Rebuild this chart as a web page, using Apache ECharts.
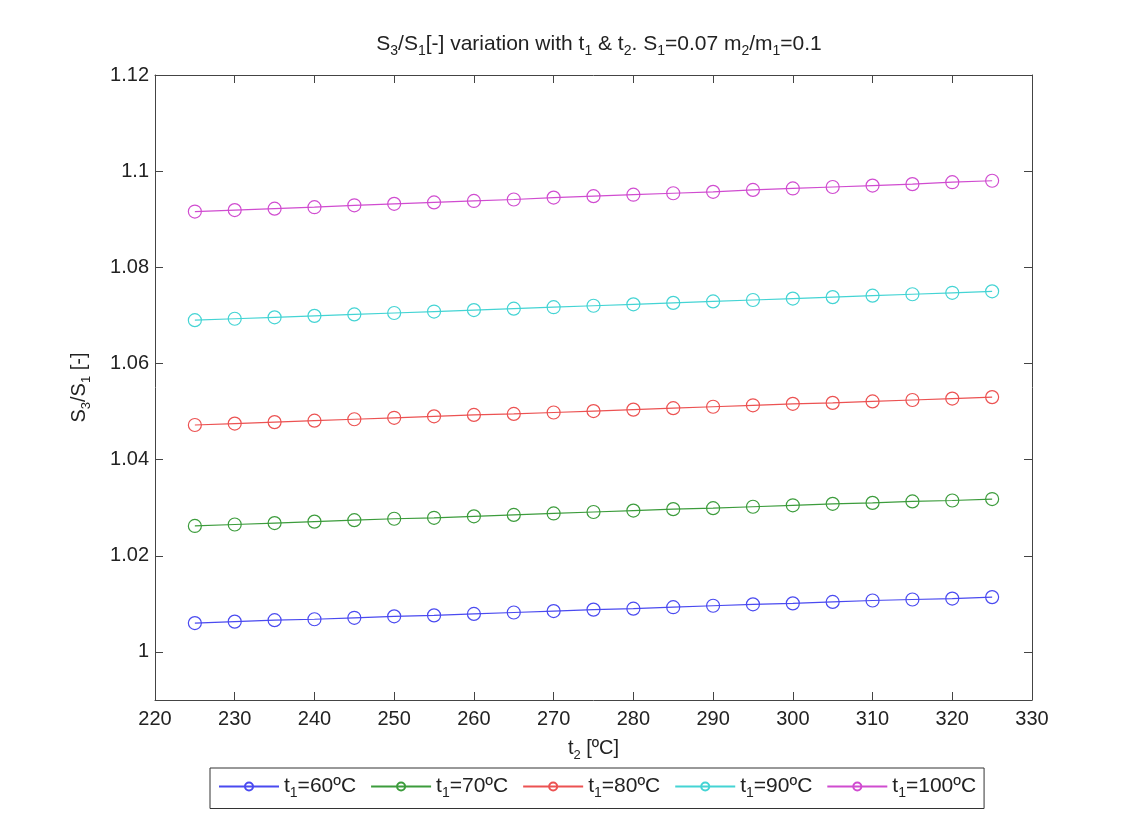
<!DOCTYPE html>
<html>
<head>
<meta charset="utf-8">
<script src="https://cdn.jsdelivr.net/npm/echarts@6/dist/echarts.min.js"></script>
<style>
  html, body { margin: 0; padding: 0; background: #fff; }
  #main { width: 1137px; height: 825px; }
</style>
</head>
<body>
<div id="main"></div>
<script>
// t2 values (x axis)
var t2 = [225, 230, 235, 240, 245, 250, 255, 260, 265, 270, 275, 280, 285, 290, 295, 300, 305, 310, 315, 320, 325]

// S3/S1 for each t1
var t1_60 = [1.0060, 1.0063, 1.0066, 1.0068, 1.0071, 1.0074, 1.0076, 1.0079, 1.0082, 1.0085, 1.0088, 1.0090, 1.0093, 1.0096, 1.0099, 1.0101, 1.0104, 1.0107, 1.0109, 1.0111, 1.0114]
var t1_70 = [1.0262, 1.0265, 1.0268, 1.0271, 1.0274, 1.0277, 1.0279, 1.0282, 1.0285, 1.0288, 1.0291, 1.0294, 1.0297, 1.0299, 1.0302, 1.0305, 1.0308, 1.0310, 1.0313, 1.0315, 1.0318]
var t1_80 = [1.0472, 1.0475, 1.0478, 1.0481, 1.0484, 1.0487, 1.0490, 1.0493, 1.0495, 1.0498, 1.0501, 1.0504, 1.0507, 1.0510, 1.0513, 1.0516, 1.0518, 1.0521, 1.0524, 1.0527, 1.0530]
var t1_90 = [1.0690, 1.0693, 1.0696, 1.0699, 1.0702, 1.0705, 1.0708, 1.0711, 1.0714, 1.0717, 1.0720, 1.0723, 1.0726, 1.0729, 1.0732, 1.0735, 1.0738, 1.0741, 1.0744, 1.0747, 1.0750]
var t1_100 = [1.0916, 1.0919, 1.0922, 1.0925, 1.0929, 1.0932, 1.0935, 1.0938, 1.0941, 1.0945, 1.0948, 1.0951, 1.0954, 1.0957, 1.0961, 1.0964, 1.0967, 1.0970, 1.0973, 1.0977, 1.0980]

var seriesNames = ['t1=60ºC', 't1=70ºC', 't1=80ºC', 't1=90ºC', 't1=100ºC']
var seriesData = [t1_60, t1_70, t1_80, t1_90, t1_100]
var colors = ['#4a4af0', '#3c9c3c', '#ec5252', '#44d4d4', '#d04cd0']

var yTicks = [1, 1.02, 1.04, 1.06, 1.08, 1.1, 1.12]

var font = 'Liberation Sans, Arial, sans-serif'
var txt = '#222'
function richSet (big, small) {
  return {
    a: { fontSize: big, fontFamily: font, fontWeight: 'normal', color: txt, lineHeight: big + 7 },
    s: { fontSize: small, fontFamily: font, fontWeight: 'normal', color: txt, lineHeight: small - 1, verticalAlign: 'bottom' }
  }
}

var chart = echarts.init(document.getElementById('main'))

var series = seriesNames.map(function (name, i) {
  return {
    name: name,
    type: 'line',
    data: t2.map(function (x, j) { return [x, seriesData[i][j]] }),
    symbol: 'circle',
    symbolSize: 13,
    color: colors[i],
    lineStyle: { width: 1.2, color: colors[i] },
    itemStyle: { color: 'rgba(255,255,255,0)', borderColor: colors[i], borderWidth: 1.2 },
    animation: false
  }
})

var axisLine = { show: true, lineStyle: { color: '#444', width: 1 } }
var tick = { show: true, inside: true, length: 8, lineStyle: { color: '#444' } }

chart.setOption({
  backgroundColor: '#fff',
  title: {
    text: '{a|S}{s|3}{a|/S}{s|1}{a|[-] variation with t}{s|1}{a| & t}{s|2}{a|. S}{s|1}{a|=0.07 m}{s|2}{a|/m}{s|1}{a|=0.1}',
    left: 594,
    textAlign: 'center',
    top: 25,
    textStyle: { fontWeight: 'normal', rich: richSet(21, 14) }
  },
  grid: { left: 155, right: 105, top: 75, bottom: 125 },
  legend: {
    left: 210,
    top: 768,
    data: seriesNames,
    itemWidth: 60,
    itemHeight: 10,
    itemGap: 14,
    padding: [8, 8, 8, 8],
    borderColor: '#333',
    borderWidth: 1,
    backgroundColor: '#fff',
    formatter: function (n) {
      return '{a|t}{s|1}{a|' + n.slice(2) + '}'
    },
    textStyle: { rich: richSet(21, 14) }
  },
  xAxis: [{
    type: 'value',
    min: 220, max: 330, interval: 10,
    axisLine: axisLine,
    axisTick: tick,
    splitLine: { show: false },
    axisLabel: { fontSize: 20, fontFamily: font, color: txt, margin: 9 },
    name: '{a|t}{s|2}{a| [ºC]}',
    nameLocation: 'middle',
    nameGap: 35,
    nameTextStyle: { rich: richSet(20, 13) }
  }, {
    type: 'value',
    position: 'top',
    min: 220, max: 330, interval: 10,
    axisLine: axisLine,
    axisTick: tick,
    splitLine: { show: false },
    axisLabel: { show: false }
  }],
  yAxis: [{
    type: 'value',
    min: 0.99, max: 1.12,
    axisLine: axisLine,
    axisTick: Object.assign({ customValues: yTicks }, tick),
    splitLine: { show: false },
    axisLabel: {
      customValues: yTicks,
      fontSize: 20, fontFamily: font, color: txt, margin: 6,
      formatter: function (v) { return String(+v.toFixed(2)) }
    },
    name: '{a|S}{s|3}{a|/S}{s|1}{a| [-]}',
    nameLocation: 'middle',
    nameGap: 62,
    nameRotate: 90,
    nameTextStyle: { rich: richSet(20, 13) }
  }, {
    type: 'value',
    position: 'right',
    min: 0.99, max: 1.12,
    axisLine: axisLine,
    axisTick: Object.assign({ customValues: yTicks }, tick),
    splitLine: { show: false },
    axisLabel: { show: false, customValues: yTicks }
  }],
  series: series
})
</script>
</body>
</html>
